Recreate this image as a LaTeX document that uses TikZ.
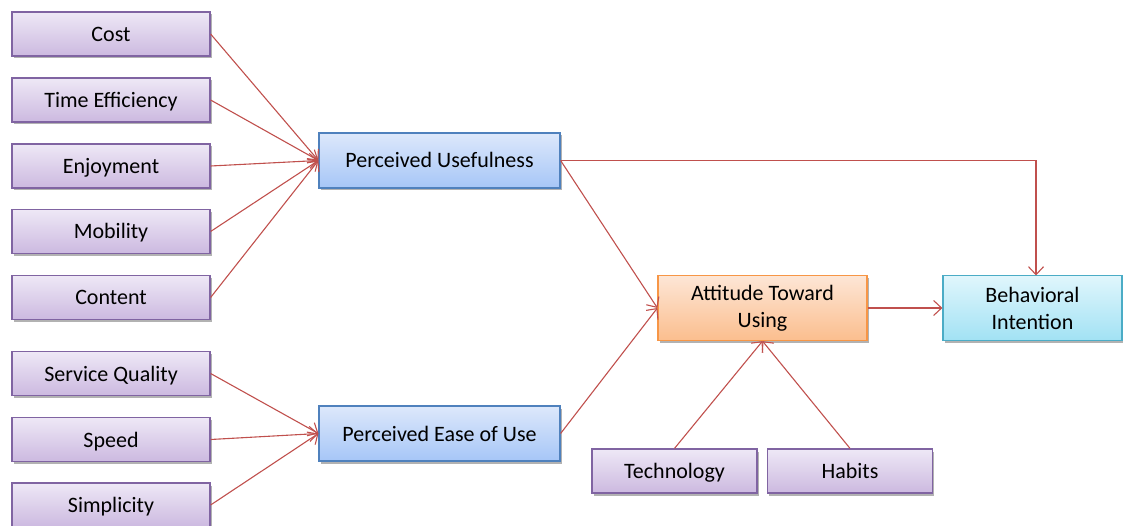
\documentclass[tikz,border=0pt]{standalone}
\usepackage{fontspec}
\setmainfont{Carlito}
\usetikzlibrary{arrows.meta,shadows}
\definecolor{linered}{HTML}{C0504D}
\definecolor{purtop}{HTML}{EEE8F6}
\definecolor{purbot}{HTML}{CCB9E0}
\definecolor{purdraw}{HTML}{8064A2}
\definecolor{blutop}{HTML}{DDE8FB}
\definecolor{blubot}{HTML}{A6C6F7}
\definecolor{bludraw}{HTML}{4F81BD}
\definecolor{ortop}{HTML}{FDE6D6}
\definecolor{orbot}{HTML}{FBBE8E}
\definecolor{ordraw}{HTML}{F79646}
\definecolor{cytop}{HTML}{E0F6FC}
\definecolor{cybot}{HTML}{A2E2F4}
\definecolor{cydraw}{HTML}{4BACC6}
\tikzset{
  basebox/.style={rectangle, line width=1.2pt, inner sep=2pt,
    font=\fontsize{22}{27}\selectfont,
    drop shadow={shadow xshift=1.5pt, shadow yshift=-2.5pt, opacity=0.3, fill=black}},
  oneline/.style={text height=18pt, text depth=3pt},
  purbox/.style={basebox, oneline, draw=purdraw, top color=purtop, bottom color=purbot,
    minimum width=198pt, minimum height=44pt},
  smallpur/.style={basebox, oneline, draw=purdraw, top color=purtop, bottom color=purbot,
    minimum width=165pt, minimum height=44pt},
  blubox/.style={basebox, oneline, draw=bludraw, top color=blutop, bottom color=blubot,
    minimum width=241pt, minimum height=55pt},
  orbox/.style={basebox, align=center, draw=ordraw, top color=ortop, bottom color=orbot,
    minimum width=209pt, minimum height=65pt},
  cybox/.style={basebox, align=center, draw=cydraw, top color=cytop, bottom color=cybot,
    minimum width=179pt, minimum height=65pt},
  conn/.style={draw=linered, line width=1.1pt, -{Straight Barb[length=8pt,width=15pt]}}
}
\begin{document}
\begin{tikzpicture}[x=1pt,y=-1pt]
\useasboundingbox (0,0) rectangle (1123,526);
\node[purbox] (cost) at (111,34) {Cost};
\node[purbox] (time) at (111,100) {Time Efficiency};
\node[purbox] (enj) at (111,166) {Enjoyment};
\node[purbox] (mob) at (111,231.5) {Mobility};
\node[purbox] (cont) at (111,297.5) {Content};
\node[purbox] (serv) at (111,373.5) {Service Quality};
\node[purbox] (speed) at (111,439.5) {Speed};
\node[purbox] (simp) at (111,505) {Simplicity};
\node[blubox] (pu) at (439.5,160.5) {Perceived Usefulness};
\node[blubox] (peou) at (439.5,433.5) {Perceived Ease of Use};
\node[orbox] (att) at (762.5,308) {Attitude Toward\\Using};
\node[cybox] (bi) at (1032.5,308) {Behavioral\\Intention};
\node[smallpur] (tech) at (674.5,471) {Technology};
\node[smallpur] (hab) at (850,471) {Habits};
\coordinate (corner) at (1036,160.5);
\coordinate (bitop) at (1036,275.5);
\foreach \n in {cost,time,enj,mob,cont} \draw[conn] (\n.east) -- (pu.west);
\foreach \n in {serv,speed,simp} \draw[conn] (\n.east) -- (peou.west);
\draw[conn] (pu.east) -- (corner) -- (bitop);
\draw[conn] (pu.east) -- (att.west);
\draw[conn] (peou.east) -- (att.west);
\draw[conn] (att.east) -- (bi.west);
\draw[conn] (tech.north) -- (att.south);
\draw[conn] (hab.north) -- (att.south);
\end{tikzpicture}
\end{document}
